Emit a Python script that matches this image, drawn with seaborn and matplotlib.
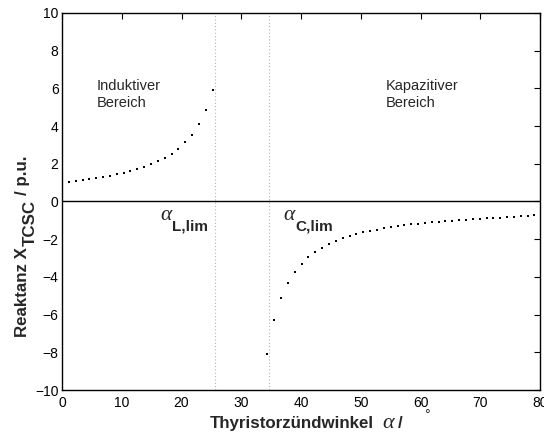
import matplotlib
matplotlib.use("Agg")
import matplotlib.pyplot as plt
from matplotlib.transforms import IdentityTransform
import seaborn as sns
import pandas as pd

# Firing angle (degrees) and TCSC reactance (p.u.) in the inductive range
alpha_ind = [0.00, 1.15, 2.29, 3.44, 4.58, 5.73, 6.88, 8.02, 9.17, 10.31, 11.46, 12.61,
             13.75, 14.90, 16.04, 17.19, 18.33, 19.48, 20.63, 21.77, 22.92, 24.06, 25.21]
x_ind = [1.00, 1.04, 1.09, 1.14, 1.18, 1.23, 1.30, 1.37, 1.46, 1.53, 1.62, 1.72,
         1.83, 1.97, 2.13, 2.32, 2.53, 2.79, 3.14, 3.55, 4.09, 4.83, 5.90]

# Firing angle (degrees) and TCSC reactance (p.u.) in the capacitive range
alpha_cap = [34.38, 35.52, 36.67, 37.82, 38.96, 40.11, 41.25, 42.40, 43.54, 44.69,
             45.84, 46.98, 48.13, 49.27, 50.42, 51.57, 52.71, 53.86, 55.00, 56.15,
             57.30, 58.44, 59.59, 60.73, 61.88, 63.03, 64.17, 65.32, 66.46, 67.61,
             68.75, 69.90, 71.05, 72.19, 73.34, 74.48, 75.63, 76.78, 77.92, 79.07]
x_cap = [-8.10, -6.26, -5.12, -4.34, -3.76, -3.32, -2.96, -2.70, -2.47, -2.28,
         -2.10, -1.96, -1.84, -1.73, -1.64, -1.55, -1.49, -1.43, -1.37, -1.32,
         -1.27, -1.22, -1.18, -1.14, -1.10, -1.07, -1.04, -1.01, -0.98, -0.96,
         -0.93, -0.91, -0.89, -0.87, -0.85, -0.83, -0.81, -0.79, -0.77, -0.74]

# Limit angles of the resonance band
alpha_limits = [25.6, 34.6]
limit_subscripts = ["L,lim", "C,lim"]
limit_label_x = [16.4, 37.0]

x_ticks = [0, 10, 20, 30, 40, 50, 60, 70, 80]
y_ticks = [-10, -8, -6, -4, -2, 0, 2, 4, 6, 8, 10]

sns.set_theme(style="white")
plt.rcParams["font.family"] = ["Liberation Sans", "DejaVu Sans"]

GREEK = "Liberation Serif"
LABEL_SIZE = 12.2

df = pd.concat([
    pd.DataFrame({"alpha": alpha_ind, "X": x_ind}),
    pd.DataFrame({"alpha": alpha_cap, "X": x_cap}),
])

fig = plt.figure(figsize=(5.44, 4.36), dpi=100)
ax = fig.add_axes([0.114, 0.1055, 0.8787, 0.8647])

for a in alpha_limits:
    ax.axvline(a, color="#b4b4b4", lw=0.8, ls=(0, (1, 2)), zorder=1)
ax.axhline(0, color="black", lw=1.0, zorder=1)

sns.scatterplot(data=df, x="alpha", y="X", ax=ax, color="black", marker="s",
                s=3.5, linewidth=0, zorder=3, legend=False)

ax.set_xlim(0, 80)
ax.set_ylim(-10, 10)
ax.set_xticks(x_ticks)
ax.set_yticks(y_ticks)
ax.set_xticklabels([str(t) for t in x_ticks])
ax.set_yticklabels([str(t).replace("-", "\u2212") for t in y_ticks])
ax.tick_params(direction="in", length=4, width=0.8, top=True, right=True,
               labelsize=10, colors="black")
ax.tick_params(axis="x", pad=4)
ax.tick_params(axis="y", pad=2.5)
for s in ax.spines.values():
    s.set_color("black")
    s.set_linewidth(1.0)
ax.set_xlabel("")
ax.set_ylabel("")

# Region annotations
ax.text(5.8, 6.5, "Induktiver\nBereich", fontsize=10.5, va="top", ha="left",
        linespacing=1.25)
ax.text(54.2, 6.5, "Kapazitiver\nBereich", fontsize=10.5, va="top", ha="left",
        linespacing=1.25)

# Limit-angle labels: Greek alpha with a bold, lowered subscript
for lx, sub in zip(limit_label_x, limit_subscripts):
    ax.text(lx, -0.98, "\u03b1", fontsize=15.5, family=GREEK, style="italic",
            ha="left", va="baseline")
    ax.annotate(sub, xy=(lx, -0.98), xytext=(12, -11), textcoords="offset pixels",
                fontsize=11, fontweight="bold", ha="left", va="baseline")

fig.canvas.draw()
renderer = fig.canvas.get_renderer()
ident = IdentityTransform()

# x-axis label assembled piece by piece (pixel coordinates, origin bottom-left)
xb = 8
t = fig.text(210, xb, "Thyristorzündwinkel", transform=ident, fontsize=LABEL_SIZE,
             fontweight="bold", ha="left", va="baseline")
x_end = t.get_window_extent(renderer).x1
t = fig.text(x_end + 8, xb, "\u03b1", transform=ident, fontsize=16, family=GREEK,
             style="italic", ha="left", va="baseline")
x_end = t.get_window_extent(renderer).x1
t = fig.text(x_end + 4, xb, "/", transform=ident, fontsize=LABEL_SIZE,
             fontweight="bold", ha="left", va="baseline")
x_end = t.get_window_extent(renderer).x1
fig.text(x_end + 22, xb + 9, "\u00b0", transform=ident, fontsize=10,
         ha="left", va="baseline")

# y-axis label with a full-size lowered subscript
yb_x = 27
y0 = 99
t = fig.text(yb_x, y0, "Reaktanz X", transform=ident, fontsize=LABEL_SIZE,
             fontweight="bold", rotation=90, rotation_mode="anchor",
             ha="left", va="baseline")
y_end = t.get_window_extent(renderer).y1
t = fig.text(yb_x + 8, y_end + 1, "TCSC", transform=ident, fontsize=LABEL_SIZE,
             fontweight="bold", rotation=90, rotation_mode="anchor",
             ha="left", va="baseline")
y_end = t.get_window_extent(renderer).y1
fig.text(yb_x, y_end + 5, "/ p.u.", transform=ident, fontsize=LABEL_SIZE,
         fontweight="bold", rotation=90, rotation_mode="anchor",
         ha="left", va="baseline")

fig.savefig("out.png", dpi=100)
